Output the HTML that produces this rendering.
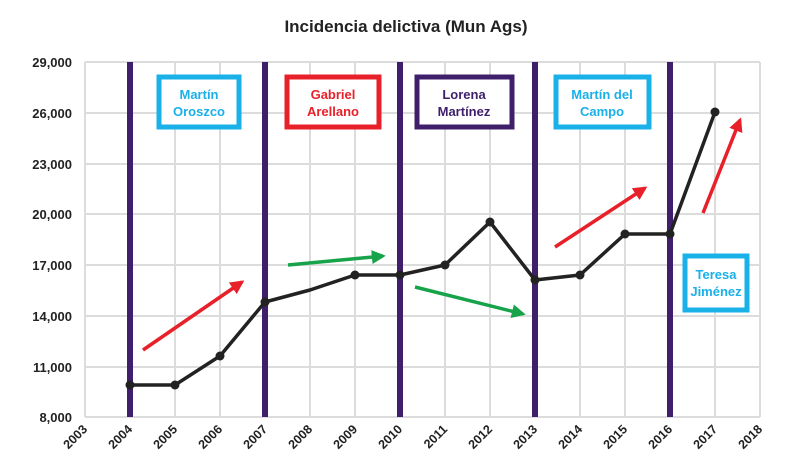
<!DOCTYPE html><html><head><meta charset="utf-8"><style>body{margin:0;background:#fff}svg{display:block}text{font-family:"Liberation Sans",sans-serif}</style></head><body>
<svg width="803" height="473" viewBox="0 0 803 473" xmlns="http://www.w3.org/2000/svg">
<defs>
<marker id="ar" viewBox="0 0 10 10" refX="8" refY="5" markerWidth="4" markerHeight="4" orient="auto"><path d="M0,0L10,5L0,10z" fill="#e8202a"/></marker>
<marker id="ag" viewBox="0 0 10 10" refX="8" refY="5" markerWidth="4" markerHeight="4" orient="auto"><path d="M0,0L10,5L0,10z" fill="#17a34a"/></marker>
</defs>
<text x="406" y="32" text-anchor="middle" font-size="17" font-weight="bold" fill="#222">Incidencia delictiva (Mun Ags)</text>
<g stroke="#dcdcdc" stroke-width="2">
<line x1="85" y1="62" x2="760" y2="62"/><line x1="85" y1="113" x2="760" y2="113"/><line x1="85" y1="164" x2="760" y2="164"/><line x1="85" y1="214" x2="760" y2="214"/><line x1="85" y1="265" x2="760" y2="265"/><line x1="85" y1="316" x2="760" y2="316"/><line x1="85" y1="367" x2="760" y2="367"/><line x1="85" y1="417" x2="760" y2="417"/>
<line x1="85" y1="62" x2="85" y2="417"/><line x1="130" y1="62" x2="130" y2="417"/><line x1="175" y1="62" x2="175" y2="417"/><line x1="220" y1="62" x2="220" y2="417"/><line x1="265" y1="62" x2="265" y2="417"/><line x1="310" y1="62" x2="310" y2="417"/><line x1="355" y1="62" x2="355" y2="417"/><line x1="400" y1="62" x2="400" y2="417"/><line x1="445" y1="62" x2="445" y2="417"/><line x1="490" y1="62" x2="490" y2="417"/><line x1="535" y1="62" x2="535" y2="417"/><line x1="580" y1="62" x2="580" y2="417"/><line x1="625" y1="62" x2="625" y2="417"/><line x1="670" y1="62" x2="670" y2="417"/><line x1="715" y1="62" x2="715" y2="417"/><line x1="760" y1="62" x2="760" y2="417"/>
</g>
<g font-size="13" font-weight="bold" fill="#222" text-anchor="end">
<text x="72" y="67">29,000</text><text x="72" y="118">26,000</text><text x="72" y="169">23,000</text><text x="72" y="219">20,000</text><text x="72" y="270">17,000</text><text x="72" y="321">14,000</text><text x="72" y="372">11,000</text><text x="72" y="422">8,000</text>
</g>
<g font-size="12.5" font-weight="bold" fill="#222" text-anchor="end">
<text transform="translate(88,430) rotate(-45)">2003</text><text transform="translate(133,430) rotate(-45)">2004</text><text transform="translate(178,430) rotate(-45)">2005</text><text transform="translate(223,430) rotate(-45)">2006</text><text transform="translate(268,430) rotate(-45)">2007</text><text transform="translate(313,430) rotate(-45)">2008</text><text transform="translate(358,430) rotate(-45)">2009</text><text transform="translate(403,430) rotate(-45)">2010</text><text transform="translate(448,430) rotate(-45)">2011</text><text transform="translate(493,430) rotate(-45)">2012</text><text transform="translate(538,430) rotate(-45)">2013</text><text transform="translate(583,430) rotate(-45)">2014</text><text transform="translate(628,430) rotate(-45)">2015</text><text transform="translate(673,430) rotate(-45)">2016</text><text transform="translate(718,430) rotate(-45)">2017</text><text transform="translate(763,430) rotate(-45)">2018</text>
</g>
<g stroke="#3f1f6b" stroke-width="6">
<line x1="130" y1="62" x2="130" y2="417"/><line x1="265" y1="62" x2="265" y2="417"/><line x1="400" y1="62" x2="400" y2="417"/><line x1="535" y1="62" x2="535" y2="417"/><line x1="670" y1="62" x2="670" y2="417"/>
</g>
<polyline fill="none" stroke="#222" stroke-width="3.5" stroke-linejoin="round" points="130,385 175,385 220,356 265,302 310,290 355,275 400,275 445,265 490,222 535,280 580,275 625,234 670,234 715,112"/>
<g fill="#222"><circle cx="130" cy="385" r="4.5"/><circle cx="175" cy="385" r="4.5"/><circle cx="220" cy="356" r="4.5"/><circle cx="265" cy="302" r="4.5"/><circle cx="355" cy="275" r="4.5"/><circle cx="400" cy="275" r="4.5"/><circle cx="445" cy="265" r="4.5"/><circle cx="490" cy="222" r="4.5"/><circle cx="535" cy="280" r="4.5"/><circle cx="580" cy="275" r="4.5"/><circle cx="625" cy="234" r="4.5"/><circle cx="670" cy="234" r="4.5"/><circle cx="715" cy="112" r="4.5"/></g>
<g stroke-width="3.5">
<line x1="143" y1="350" x2="242" y2="282" stroke="#e8202a" marker-end="url(#ar)"/>
<line x1="288" y1="265" x2="383" y2="256" stroke="#17a34a" marker-end="url(#ag)"/>
<line x1="415" y1="287" x2="523" y2="314" stroke="#17a34a" marker-end="url(#ag)"/>
<line x1="555" y1="247" x2="645" y2="188" stroke="#e8202a" marker-end="url(#ar)"/>
<line x1="703" y1="213" x2="740" y2="120" stroke="#e8202a" marker-end="url(#ar)"/>
</g>
<g fill="#fff" stroke-width="5">
<rect x="159" y="77" width="80" height="50" stroke="#1ab0e8"/>
<rect x="287" y="77" width="92" height="50" stroke="#e8202a"/>
<rect x="417" y="77" width="95" height="50" stroke="#3f1f6b"/>
<rect x="556" y="77" width="93" height="50" stroke="#1ab0e8"/>
<rect x="685" y="256" width="62" height="54" stroke="#1ab0e8"/>
</g>
<g font-size="13" font-weight="bold" text-anchor="middle">
<text x="199" y="99" fill="#1ab0e8">Martín</text><text x="199" y="116" fill="#1ab0e8">Oroszco</text>
<text x="333" y="99" fill="#e8202a">Gabriel</text><text x="333" y="116" fill="#e8202a">Arellano</text>
<text x="464" y="99" fill="#3f1f6b">Lorena</text><text x="464" y="116" fill="#3f1f6b">Martínez</text>
<text x="602" y="99" fill="#1ab0e8">Martín del</text><text x="602" y="116" fill="#1ab0e8">Campo</text>
<text x="716" y="279" fill="#1ab0e8">Teresa</text><text x="716" y="296" fill="#1ab0e8">Jiménez</text>
</g>
</svg>
</body></html>
